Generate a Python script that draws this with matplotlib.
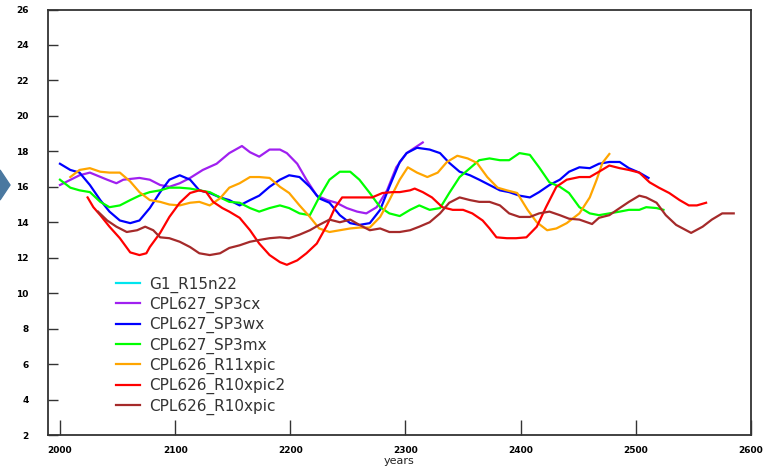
import matplotlib
matplotlib.use("Agg")
import matplotlib.pyplot as plt
from matplotlib.patches import Polygon

# --- data ---
labels = ["G1_R15n22", "CPL627_SP3cx", "CPL627_SP3wx", "CPL627_SP3mx",
          "CPL626_R11xpic", "CPL626_R10xpic2", "CPL626_R10xpic"]
colors = ["#00e5ee", "#a020f0", "#0000ff", "#00ff00", "#ffa500", "#ff0000", "#a52a2a"]

g1_years = []
g1_vals = []

sp3cx_years = [2000, 2017, 2026, 2041, 2049, 2055, 2069, 2078, 2087, 2095, 2104, 2113,
               2124, 2136, 2147, 2158, 2165, 2173, 2182, 2191, 2197, 2206, 2214, 2223,
               2232, 2240, 2249, 2258, 2266, 2275, 2284, 2292, 2301, 2315]
sp3cx_vals = [16.1, 16.65, 16.8, 16.4, 16.2, 16.4, 16.5, 16.4, 16.1, 16.0, 16.2, 16.5,
              16.95, 17.3, 17.9, 18.3, 17.95, 17.7, 18.1, 18.1, 17.9, 17.3, 16.4, 15.5,
              15.25, 15.1, 14.8, 14.6, 14.5, 14.85, 15.8, 17.1, 17.9, 18.5]

sp3wx_years = [2000, 2009, 2017, 2026, 2035, 2043, 2052, 2061, 2069, 2078, 2087, 2095,
               2104, 2113, 2121, 2130, 2139, 2147, 2156, 2165, 2173, 2182, 2191, 2199,
               2208, 2217, 2225, 2234, 2243, 2252, 2260, 2269, 2278, 2286, 2295, 2301,
               2310, 2321, 2330, 2338, 2347, 2356, 2364, 2373, 2382, 2390, 2399, 2408,
               2416, 2425, 2434, 2442, 2451, 2460, 2468, 2477, 2486, 2494, 2503, 2511]
sp3wx_vals = [17.3, 16.95, 16.8, 16.1, 15.25, 14.6, 14.1, 13.95, 14.1, 14.8, 15.7, 16.4,
              16.65, 16.4, 15.8, 15.65, 15.4, 15.25, 14.95, 15.25, 15.5, 16.0, 16.4, 16.65,
              16.55, 16.0, 15.35, 15.1, 14.4, 13.95, 13.85, 13.95, 14.7, 16.0, 17.4, 17.9,
              18.2, 18.1, 17.9, 17.35, 16.85, 16.65, 16.4, 16.1, 15.8, 15.7, 15.5, 15.4,
              15.7, 16.1, 16.4, 16.85, 17.1, 17.05, 17.3, 17.4, 17.4, 17.05, 16.8, 16.5]

sp3mx_years = [2000, 2009, 2017, 2026, 2035, 2043, 2052, 2061, 2069, 2078, 2087, 2095,
               2104, 2113, 2121, 2130, 2139, 2147, 2156, 2165, 2173, 2182, 2191, 2199,
               2208, 2217, 2225, 2234, 2243, 2252, 2260, 2269, 2278, 2286, 2295, 2304,
               2312, 2321, 2330, 2338, 2347, 2356, 2364, 2373, 2382, 2390, 2399, 2408,
               2416, 2425, 2434, 2442, 2451, 2460, 2468, 2477, 2486, 2494, 2503, 2509,
               2518, 2524]
sp3mx_vals = [16.4, 15.95, 15.8, 15.7, 15.15, 14.85, 14.95, 15.25, 15.5, 15.7, 15.8, 15.95,
              15.95, 15.9, 15.8, 15.7, 15.4, 15.15, 15.1, 14.8, 14.6, 14.8, 14.95, 14.8,
              14.5, 14.4, 15.4, 16.4, 16.85, 16.85, 16.4, 15.65, 14.85, 14.5, 14.35, 14.7,
              14.95, 14.7, 14.8, 15.65, 16.55, 17.05, 17.5, 17.6, 17.5, 17.5, 17.9, 17.8,
              17.1, 16.25, 16.0, 15.65, 14.85, 14.5, 14.4, 14.5, 14.6, 14.7, 14.7, 14.85,
              14.8, 14.7]

r11_years = [2009, 2017, 2026, 2035, 2043, 2052, 2061, 2069, 2078, 2087, 2095, 2104,
             2113, 2121, 2130, 2139, 2147, 2156, 2165, 2173, 2182, 2191, 2199, 2208,
             2217, 2225, 2234, 2243, 2252, 2260, 2269, 2278, 2286, 2295, 2302, 2310,
             2319, 2328, 2336, 2345, 2354, 2362, 2371, 2380, 2388, 2397, 2406, 2414,
             2423, 2431, 2440, 2451, 2460, 2466, 2471, 2477]
r11_vals = [16.55, 16.95, 17.05, 16.85, 16.8, 16.8, 16.3, 15.7, 15.25, 15.15, 15.0, 14.95,
            15.1, 15.15, 14.95, 15.35, 15.95, 16.2, 16.55, 16.55, 16.5, 16.0, 15.65, 14.95,
            14.3, 13.65, 13.45, 13.55, 13.65, 13.7, 13.7, 14.3, 15.25, 16.4, 17.1, 16.8,
            16.55, 16.8, 17.4, 17.75, 17.6, 17.35, 16.55, 15.95, 15.8, 15.65, 14.7, 14.0,
            13.55, 13.65, 13.95, 14.5, 15.4, 16.4, 17.35, 17.85]

r10b_years = [2024, 2029, 2035, 2043, 2052, 2061, 2069, 2075, 2078, 2087, 2095, 2104,
              2113, 2121, 2127, 2133, 2141, 2147, 2156, 2165, 2173, 2182, 2191, 2197,
              2206, 2214, 2223, 2232, 2239, 2245, 2254, 2263, 2271, 2280, 2289, 2295,
              2304, 2308, 2315, 2323, 2332, 2341, 2350, 2358, 2367, 2373, 2379, 2388,
              2396, 2405, 2414, 2422, 2431, 2440, 2451, 2460, 2468, 2477, 2486, 2494,
              2503, 2512, 2520, 2529, 2538, 2546, 2553, 2561]
r10b_vals = [15.4, 14.85, 14.4, 13.75, 13.1, 12.3, 12.15, 12.25, 12.6, 13.4, 14.3, 15.1,
             15.65, 15.8, 15.7, 15.15, 14.8, 14.6, 14.25, 13.55, 12.8, 12.15, 11.75, 11.6,
             11.85, 12.25, 12.8, 13.85, 14.85, 15.4, 15.4, 15.4, 15.4, 15.65, 15.7, 15.7,
             15.8, 15.9, 15.7, 15.4, 14.85, 14.7, 14.7, 14.5, 14.1, 13.65, 13.15, 13.1,
             13.1, 13.15, 13.75, 14.85, 16.0, 16.4, 16.55, 16.55, 16.85, 17.2, 17.05, 16.95,
             16.8, 16.25, 15.95, 15.65, 15.25, 14.95, 14.95, 15.1]

r10_years = [2033, 2041, 2049, 2058, 2067, 2074, 2081, 2087, 2095, 2104, 2113, 2121,
             2130, 2139, 2147, 2156, 2165, 2173, 2182, 2191, 2199, 2208, 2217, 2225,
             2234, 2243, 2252, 2260, 2269, 2278, 2286, 2295, 2304, 2312, 2321, 2330,
             2338, 2347, 2356, 2364, 2373, 2382, 2390, 2399, 2408, 2416, 2425, 2434,
             2442, 2451, 2462, 2468, 2477, 2486, 2494, 2503, 2509, 2518, 2526, 2535,
             2548, 2558, 2566, 2575, 2585]
r10_vals = [14.6, 14.1, 13.75, 13.45, 13.55, 13.75, 13.55, 13.15, 13.1, 12.9, 12.6, 12.25,
            12.15, 12.25, 12.55, 12.7, 12.9, 13.0, 13.1, 13.15, 13.1, 13.3, 13.55, 13.85,
            14.15, 14.0, 14.15, 13.85, 13.55, 13.65, 13.45, 13.45, 13.55, 13.75, 14.0, 14.5,
            15.1, 15.4, 15.25, 15.15, 15.15, 14.95, 14.5, 14.3, 14.3, 14.5, 14.6, 14.4,
            14.2, 14.15, 13.9, 14.25, 14.4, 14.8, 15.15, 15.5, 15.4, 15.1, 14.4, 13.85,
            13.4, 13.75, 14.15, 14.5, 14.5]

xticks = [2000, 2100, 2200, 2300, 2400, 2500, 2600]
yticks = [2, 4, 6, 8, 10, 12, 14, 16, 18, 20, 22, 24, 26]

series = [(g1_years, g1_vals), (sp3cx_years, sp3cx_vals), (sp3wx_years, sp3wx_vals),
          (sp3mx_years, sp3mx_vals), (r11_years, r11_vals), (r10b_years, r10b_vals),
          (r10_years, r10_vals)]

fig = plt.figure(figsize=(7.69, 4.68), dpi=100)
ax = fig.add_axes([0.0624, 0.0705, 0.9142, 0.9092])

for (xs, ys), lab, col in zip(series, labels, colors):
    ax.plot(xs, ys, color=col, lw=1.6, label=lab)

ax.set_xlim(1989.6, 2600)
ax.set_ylim(2, 26)
ax.set_xticks(xticks)
ax.set_yticks(yticks)
ax.set_xticklabels([str(t) for t in xticks], fontsize=6.5, fontweight="bold")
ax.set_yticklabels([str(t) for t in yticks], fontsize=6.5, fontweight="bold")
ax.tick_params(axis="x", direction="in", length=11, width=1, color="#333333", pad=8)
ax.tick_params(axis="y", direction="in", length=7, width=1, color="#333333", pad=14)
for s in ax.spines.values():
    s.set_color("#333333")
    s.set_linewidth(1.3)

ax.text(0.5, -0.05, "years", transform=ax.transAxes, ha="center", va="top",
        fontsize=8, color="#222222")

leg = ax.legend(loc="upper left", bbox_to_anchor=(0.0967, 0.3725), frameon=False,
                fontsize=11, handlelength=1.57, handletextpad=0.6, labelspacing=0.27,
                borderpad=0, borderaxespad=0)
for t in leg.get_texts():
    t.set_color("#333333")

# blue-grey chevron at the left edge of the slide
fig.patches.append(Polygon([(0, 1 - 170 / 468), (10 / 769, 1 - 185 / 468), (0, 1 - 200 / 468)],
                           closed=True, transform=fig.transFigure, color="#4a78a0"))

fig.savefig("out.png", dpi=100)
